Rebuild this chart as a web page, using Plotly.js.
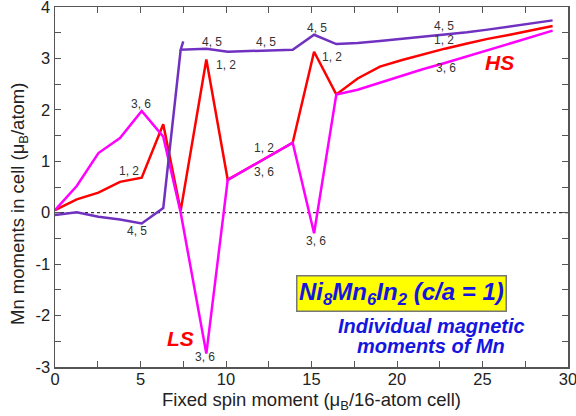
<!DOCTYPE html>
<html>
<head>
<meta charset="utf-8">
<script src="https://cdn.plot.ly/plotly-3.0.1.min.js"></script>
<style>html,body{margin:0;padding:0;background:#fff;}#plot{width:576px;height:416px;}</style>
</head>
<body>
<div id="plot"></div>
<script>
// Fixed spin moment (muB / 16-atom cell)
const xMain = [0, 1.27, 2.54, 3.8, 5.07, 6.33, 7.35, 8.85, 10.1, 13.9, 15.15, 16.45, 17.7, 19.0, 20.3, 21.5, 22.8, 24.1, 25.3, 26.6, 27.8, 29.1];
const xMn45 = [0, 1.27, 2.54, 3.8, 5.07, 6.33, 7.35, 7.5, 7.35, 8.85, 10.1, 13.9, 15.15, 16.45, 17.7, 19.0, 20.3, 21.5, 22.8, 24.1, 25.3, 26.6, 27.8, 29.1];
// Mn moments (muB/atom)
const mn12 = [0.05, 0.26, 0.39, 0.60, 0.68, 1.72, 0.04, 2.98, 0.64, 1.36, 3.13, 2.30, 2.61, 2.84, 2.97, 3.08, 3.19, 3.29, 3.38, 3.46, 3.54, 3.63];
const mn36 = [0.05, 0.52, 1.16, 1.45, 1.98, 1.48, 0.00, -2.74, 0.64, 1.36, -0.40, 2.30, 2.39, 2.53, 2.66, 2.79, 2.91, 3.04, 3.16, 3.28, 3.41, 3.54];
const mn45 = [-0.045, 0.01, -0.08, -0.13, -0.21, 0.09, 3.17, 3.33, 3.17, 3.19, 3.13, 3.17, 3.46, 3.28, 3.30, 3.34, 3.38, 3.42, 3.46, 3.51, 3.56, 3.62, 3.68, 3.74];

// tick labels
const xTickVals = [0, 5, 10, 15, 20, 25, 30];
const xTickText = ["0", "5", "10", "15", "20", "25", "30"];
const yTickVals = [-3, -2, -1, 0, 1, 2, 3, 4];
const yTickText = ["-3", "-2", "-1", "0", "1", "2", "3", "4"];

// site labels
const labelText = ["3, 6", "1, 2", "4, 5", "4, 5", "1, 2", "4, 5", "1, 2", "3, 6", "4, 5", "1, 2", "3, 6", "3, 6", "4, 5", "1, 2", "3, 6"];
const labelX = [5.01, 4.35, 4.81, 9.16, 9.98, 12.32, 12.24, 12.24, 15.3, 16.18, 15.26, 8.77, 22.75, 22.75, 22.87];
const labelY = [2.11, 0.82, -0.36, 3.32, 2.87, 3.32, 1.26, 0.80, 3.60, 3.02, -0.55, -2.80, 3.63, 3.35, 2.81];

const FONT = "Liberation Sans, Arial, Helvetica, sans-serif";
const BLUE = '#1515e0';

const traces = [
  {x: xMain, y: mn12, mode: 'lines', line: {color: '#ff0000', width: 2.5}, name: '1, 2'},
  {x: xMain, y: mn36, mode: 'lines', line: {color: '#ff00ff', width: 2.5}, name: '3, 6'},
  {x: xMn45, y: mn45, mode: 'lines', line: {color: '#7030c0', width: 2.5}, name: '4, 5'}
];

const annotations = labelText.map((t, i) => ({
  x: labelX[i], y: labelY[i], xref: 'x', yref: 'y', text: t, showarrow: false,
  font: {family: FONT, size: 12, color: '#333'}
}));
annotations.push(
  {x: 26.02, y: 2.93, xref: 'x', yref: 'y', text: '<b><i>HS</i></b>', showarrow: false,
   font: {family: FONT, size: 21, color: '#ff0000'}},
  {x: 7.31, y: -2.44, xref: 'x', yref: 'y', text: '<b><i>LS</i></b>', showarrow: false,
   font: {family: FONT, size: 21, color: '#ff0000'}},
  {x: 20.27, y: -1.57, xref: 'x', yref: 'y',
   text: '<b><i>Ni<sub>8</sub>Mn<sub>6</sub>In<sub>2</sub> (c/a = 1)</i></b>', showarrow: false,
   font: {family: FONT, size: 24, color: BLUE}, bgcolor: '#ffff00', bordercolor: '#777', borderwidth: 1.5, borderpad: 1.5},
  {x: 21.99, y: -2.21, xref: 'x', yref: 'y',
   text: '<b><i>Individual magnetic</i></b>', showarrow: false,
   font: {family: FONT, size: 20, color: BLUE}},
  {x: 21.99, y: -2.59, xref: 'x', yref: 'y',
   text: '<b><i>moments of Mn</i></b>', showarrow: false,
   font: {family: FONT, size: 20, color: BLUE}},
  // axis titles
  {xref: 'paper', yref: 'paper', x: (19 - 55) / 513, y: (367 - 204) / 360, textangle: -90,
   text: 'Mn moments in cell (μ<sub>B</sub>/atom)', showarrow: false, xanchor: 'center', yanchor: 'middle',
   font: {family: FONT, size: 18.5, color: '#222'}},
  {xref: 'paper', yref: 'paper', x: 0.5, y: (367 - 401) / 360,
   text: 'Fixed spin moment (μ<sub>B</sub>/16-atom cell)', showarrow: false, xanchor: 'center', yanchor: 'middle',
   font: {family: FONT, size: 18.5, color: '#222'}}
);

const axisCommon = {
  showline: true, mirror: 'ticks', linecolor: '#555', linewidth: 1.5,
  ticks: 'inside', ticklen: 6, tickwidth: 1, tickcolor: '#555',
  showgrid: false, zeroline: false, tickmode: 'array',
  ticklabeloverflow: 'allow',
  tickfont: {family: FONT, size: 16.5, color: '#222'}
};

const layout = {
  width: 576, height: 416,
  margin: {l: 55, r: 8, t: 7, b: 49},
  paper_bgcolor: '#fff', plot_bgcolor: '#fff',
  showlegend: false,
  xaxis: Object.assign({}, axisCommon, {
    range: [0, 30], tickvals: xTickVals, ticktext: xTickText, ticklabelstandoff: -3,
    minor: {dtick: 2.5, tick0: 0, ticks: 'inside', ticklen: 6, tickcolor: '#555'}
  }),
  yaxis: Object.assign({}, axisCommon, {
    range: [-3, 4], tickvals: yTickVals, ticktext: yTickText,
    minor: {dtick: 0.5, tick0: 0, ticks: 'inside', ticklen: 6, tickcolor: '#555'}
  }),
  shapes: [
    {type: 'line', xref: 'x', yref: 'y', x0: 0, x1: 30, y0: 0, y1: 0, line: {color: '#000', width: 1, dash: 'dot'}, layer: 'below'}
  ],
  annotations: annotations
};

Plotly.newPlot('plot', traces, layout, {displayModeBar: false, staticPlot: true});
</script>
</body>
</html>
